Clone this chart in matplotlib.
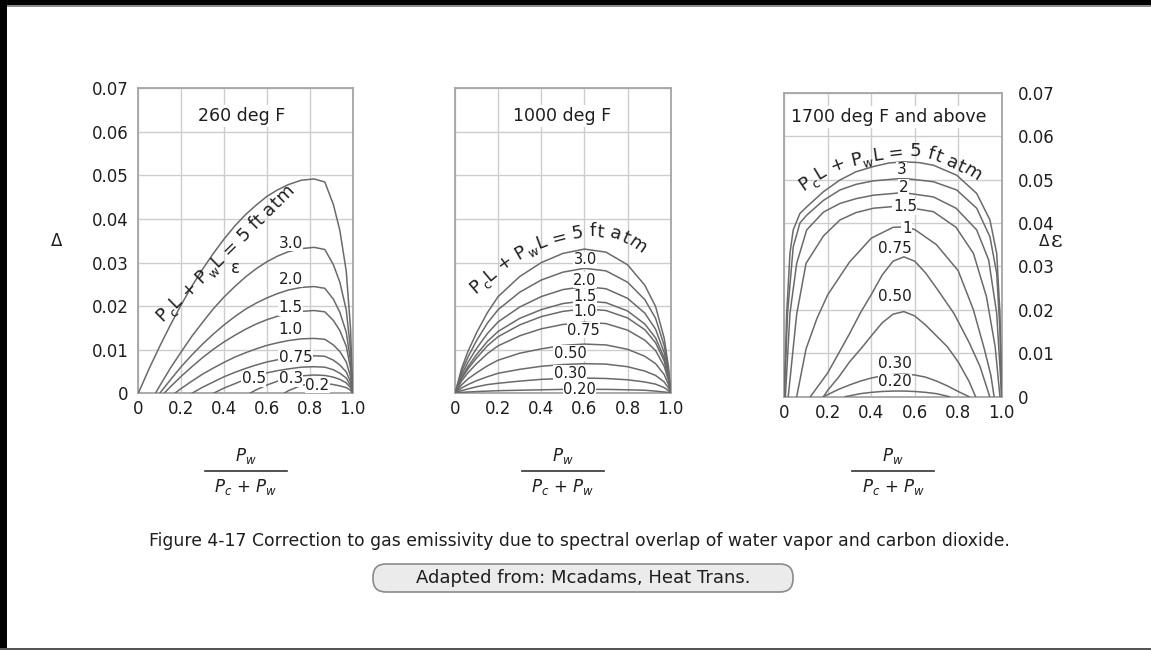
import numpy as np
import matplotlib
matplotlib.use("Agg")
import matplotlib.pyplot as plt
from matplotlib.patches import FancyBboxPatch, Rectangle
from matplotlib.lines import Line2D
from matplotlib.transforms import IdentityTransform

plt.rcParams['font.family'] = ['DejaVu Sans']
plt.rcParams['mathtext.fontset'] = 'dejavusans'

# ---- data ----
X_TICKS = [0, 0.2, 0.4, 0.6, 0.8, 1.0]
X_TICK_LABELS = ["0", "0.2", "0.4", "0.6", "0.8", "1.0"]
Y_TICKS = [0, 0.01, 0.02, 0.03, 0.04, 0.05, 0.06, 0.07]
Y_TICK_LABELS = ["0", "0.01", "0.02", "0.03", "0.04", "0.05", "0.06", "0.07"]

TITLES = ["260 deg F", "1000 deg F", "1700 deg F and above"]

# panel 1 (260 deg F): common grid, each curve starts on the base line at its own x
p1_grid = [0.05, 0.1, 0.15, 0.2, 0.25, 0.3, 0.35, 0.4, 0.45, 0.5, 0.55,
           0.6, 0.65, 0.7, 0.76, 0.82, 0.87, 0.91, 0.94, 0.97, 0.99, 1.0]
p1_start = {"5": 0.0, "3.0": 0.08, "2.0": 0.10, "1.5": 0.12, "1.0": 0.17,
            "0.75": 0.25, "0.5": 0.35, "0.3": 0.52, "0.2": 0.68}
N = None
p1_vals = {
    "5":    [.0056, .0108, .0157, .0203, .0246, .0285, .0321, .0354, .0384, .0410, .0432,
             .0452, .0467, .0479, .0489, .0492, .0485, .0433, .0374, .0280, .0148, 0],
    "3.0":  [N, .0017, .0058, .0095, .0131, .0163, .0194, .0221, .0245, .0267, .0286,
             .0302, .0315, .0325, .0332, .0335, .0330, .0295, .0255, .0191, .0100, 0],
    "2.0":  [N, N, .0031, .0061, .0088, .0113, .0136, .0157, .0176, .0193, .0207,
             .0219, .0229, .0237, .0243, .0245, .0241, .0216, .0186, .0140, .0074, 0],
    "1.5":  [N, N, .0015, .0039, .0061, .0082, .0101, .0118, .0133, .0147, .0159,
             .0169, .0177, .0183, .0188, .0190, .0187, .0167, .0144, .0108, .0057, 0],
    "1.0":  [N, N, N, .0011, .0028, .0044, .0058, .0071, .0083, .0093, .0102,
             .0110, .0116, .0121, .0125, .0126, .0124, .0111, .0096, .0072, .0038, 0],
    "0.75": [N, N, N, N, N, .0014, .0026, .0038, .0048, .0057, .0065,
             .0072, .0077, .0082, .0085, .0086, .0085, .0076, .0065, .0049, .0026, 0],
    "0.5":  [N, N, N, N, N, N, N, .0012, .0022, .0032, .0040,
             .0047, .0052, .0056, .0060, .0061, .0060, .0054, .0046, .0035, .0018, 0],
    "0.3":  [N, N, N, N, N, N, N, N, N, N, .0008,
             .0019, .0028, .0035, .0040, .0042, .0041, .0037, .0032, .0024, .0013, 0],
    "0.2":  [N, N, N, N, N, N, N, N, N, N, N,
             N, N, .0006, .0018, .0023, .0023, .0020, .0017, .0013, .0007, 0],
}
p1_labels = {"3.0": (0.711, 0.0344), "2.0": (0.711, 0.0262), "1.5": (0.711, 0.0196),
             "1.0": (0.711, 0.0146), "0.75": (0.734, 0.0082), "0.5": (0.539, 0.0033),
             "0.3": (0.711, 0.0033), "0.2": (0.836, 0.0019)}

# panel 2 (1000 deg F): all curves run from 0 to 1
p2_grid = [0, 0.03, 0.06, 0.1, 0.15, 0.2, 0.3, 0.4, 0.5, 0.6, 0.7, 0.8, 0.88, 0.93, 0.97, 0.99, 1.0]
p2_vals = {
    "5":    [0, .0056, .0096, .0139, .0185, .0222, .0268, .0300, .0321, .0331, .0324, .0295, .0248, .0199, .0126, .0060, 0],
    "3.0":  [0, .0049, .0083, .0121, .0161, .0192, .0232, .0260, .0278, .0287, .0281, .0255, .0215, .0172, .0109, .0052, 0],
    "2.0":  [0, .0042, .0071, .0103, .0137, .0164, .0198, .0222, .0238, .0245, .0240, .0218, .0184, .0147, .0093, .0044, 0],
    "1.5":  [0, .0036, .0061, .0089, .0119, .0142, .0172, .0192, .0206, .0212, .0208, .0189, .0159, .0127, .0081, .0038, 0],
    "1.0":  [0, .0033, .0056, .0081, .0109, .0130, .0157, .0176, .0188, .0194, .0190, .0173, .0146, .0116, .0074, .0035, 0],
    "0.75": [0, .0028, .0047, .0068, .0091, .0109, .0132, .0148, .0158, .0163, .0160, .0145, .0122, .0098, .0062, .0029, 0],
    "0.50": [0, .0019, .0033, .0047, .0063, .0076, .0092, .0102, .0110, .0113, .0111, .0101, .0085, .0068, .0043, .0020, 0],
    "0.30": [0, .0012, .0020, .0029, .0038, .0046, .0055, .0062, .0066, .0068, .0067, .0061, .0051, .0041, .0026, .0012, 0],
    "0.20": [0, .0006, .0010, .0015, .0020, .0023, .0028, .0032, .0034, .0035, .0034, .0031, .0026, .0021, .0013, .0006, 0],
    "low":  [0, .0002, .0003, .0004, .0005, .0006, .0007, .0008, .0009, .0009, .0009, .0008, .0007, .0005, .0003, .0002, 0],
}
p2_labels = {"3.0": (0.603, 0.0306), "2.0": (0.603, 0.0260), "1.5": (0.603, 0.0222),
             "1.0": (0.603, 0.0188), "0.75": (0.595, 0.0145), "0.50": (0.533, 0.0092),
             "0.30": (0.533, 0.0046), "0.20": (0.577, 0.0009)}

# panel 3 (1700 deg F and above): each curve has its own points
p3_x = {
    "5":    [0, 0.011, 0.026, 0.041, 0.072, 0.103, 0.18, 0.256, 0.33, 0.41, 0.48, 0.548, 0.62, 0.686, 0.793, 0.885, 0.946, 0.977, 0.992, 1.0],
    "3":    [0, 0.015, 0.041, 0.072, 0.103, 0.18, 0.256, 0.33, 0.41, 0.548, 0.686, 0.793, 0.885, 0.946, 0.977, 0.992, 1.0],
    "2":    [0.005, 0.026, 0.057, 0.103, 0.18, 0.256, 0.33, 0.41, 0.548, 0.686, 0.79, 0.885, 0.94, 0.977, 1.0],
    "1.5":  [0.018, 0.057, 0.10, 0.18, 0.256, 0.33, 0.41, 0.53, 0.686, 0.79, 0.87, 0.93, 0.97, 0.992],
    "1":    [0.057, 0.10, 0.15, 0.2, 0.3, 0.4, 0.5, 0.55, 0.6, 0.7, 0.8, 0.87, 0.92, 0.95, 0.965],
    "0.75": [0.12, 0.2, 0.3, 0.35, 0.4, 0.45, 0.5, 0.55, 0.6, 0.65, 0.7, 0.78, 0.85, 0.9, 0.945],
    "0.50": [0.18, 0.2, 0.25, 0.3, 0.36, 0.4, 0.45, 0.5, 0.55, 0.6, 0.65, 0.7, 0.75, 0.8, 0.85, 0.88],
    "0.30": [0.18, 0.25, 0.3, 0.35, 0.4, 0.45, 0.5, 0.55, 0.6, 0.65, 0.7, 0.75, 0.8, 0.85],
    "0.20": [0.28, 0.35, 0.4, 0.45, 0.5, 0.55, 0.6, 0.65, 0.7, 0.76],
}
p3_y = {
    "5":    [0, .0192, .0330, .0384, .0422, .0437, .0472, .0499, .0518, .0530, .0538, .0541, .0539, .0533, .0510, .0468, .0407, .0330, .0192, 0],
    "3":    [0, .0192, .0345, .0400, .0418, .0452, .0476, .0489, .0497, .0503, .0495, .0476, .0434, .0368, .0284, .0153, 0],
    "2":    [0, .0192, .0307, .0384, .0425, .0445, .0456, .0464, .0470, .0460, .0434, .0384, .0315, .0192, 0],
    "1.5":  [0, .0190, .0307, .0370, .0407, .0424, .0434, .0439, .0426, .0390, .0330, .0230, .0115, 0],
    "1":    [0, .0110, .0180, .0235, .0310, .0365, .0390, .0391, .0385, .0350, .0290, .0200, .0110, .0050, 0],
    "0.75": [0, .0055, .0145, .0193, .0235, .0280, .0312, .0322, .0312, .0285, .0250, .0192, .0125, .0070, 0],
    "0.50": [0, .0015, .0045, .0080, .0115, .0140, .0170, .0190, .0196, .0186, .0165, .0140, .0115, .0080, .0035, 0],
    "0.30": [0, .0017, .0027, .0036, .0043, .0048, .0051, .0052, .0050, .0045, .0036, .0025, .0012, 0],
    "0.20": [0, .0007, .0010, .0012, .0013, .0013, .0012, .0010, .0007, 0],
}
p3_labels = {"3": (0.540, 0.0523), "2": (0.548, 0.0482), "1.5": (0.555, 0.0437),
             "1": (0.563, 0.0388), "0.75": (0.509, 0.0342), "0.50": (0.509, 0.0230),
             "0.30": (0.509, 0.0077), "0.20": (0.509, 0.0035)}

# baseline paths for the "PcL + PwL = 5 ft atm" label in each panel
p1_path_x = [0.112, 0.76, 0.95]
p1_path_y = [0.0163, 0.0478, 0.0570]
p2_path_x = [0.095, 0.238, 0.365, 0.52, 0.64, 0.745, 0.83, 0.915, 0.955, 0.99]
p2_path_y = [0.0228, 0.0289, 0.0328, 0.0351, 0.0361, 0.0354, 0.0333, 0.0292, 0.0269, 0.0240]
p3_path_x = [0.088, 0.216, 0.40, 0.53, 0.60, 0.686, 0.76, 0.84, 0.885, 0.93, 0.96, 0.99]
p3_path_y = [0.0474, 0.0518, 0.0542, 0.0550, 0.0554, 0.0546, 0.0528, 0.0510, 0.0495, 0.0476, 0.0455, 0.0430]

label_pieces = [("P", 1, 0), ("c", .7, .28), ("L", 1, 0), (" ", 1, 0), ("+", 1, 0), (" ", 1, 0),
                ("P", 1, 0), ("w", .7, .28), ("L", 1, 0), (" ", 1, 0), ("=", 1, 0), (" ", 1, 0),
                ("5", 1, 0), (" ", 1, 0), ("f", 1, 0), ("t", 1, 0), (" ", 1, 0),
                ("a", 1, 0), ("t", 1, 0), ("m", 1, 0)]

CAPTION = "Figure 4-17 Correction to gas emissivity due to spectral overlap of water vapor and carbon dioxide."
SOURCE = "Adapted from: Mcadams, Heat Trans."

# ---- figure ----
W, H = 1151, 650
fig = plt.figure(figsize=(W / 100, H / 100), dpi=100)
fig.patch.set_facecolor('white')

CURVE = '#6a6a6a'
TEXT = '#1e1e1e'

ax1 = fig.add_axes([138.3 / W, (H - 393.3) / H, 214.4 / W, 305 / H])
ax2 = fig.add_axes([455.0 / W, (H - 393.3) / H, 215.7 / W, 305 / H])
ax3 = fig.add_axes([784.3 / W, (H - 396.7) / H, 217.4 / W, 304 / H])


def setup(ax, side):
    ax.set_xlim(0, 1)
    ax.set_ylim(0, 0.07)
    ax.set_xticks(X_TICKS)
    ax.set_xticklabels(X_TICK_LABELS)
    ax.set_yticks(Y_TICKS)
    ax.set_yticklabels(Y_TICK_LABELS)
    ax.grid(True, color='#cdcdcd', lw=1.0)
    ax.set_axisbelow(True)
    ax.tick_params(length=0, labelsize=12, colors=TEXT)
    ax.tick_params(axis='x', pad=5)
    for s in ax.spines.values():
        s.set_color('#a5a5a5')
        s.set_linewidth(1.3)
    if side == 'left':
        ax.tick_params(axis='y', pad=7)
    elif side == 'right':
        ax.yaxis.tick_right()
        ax.tick_params(axis='y', pad=12, length=0)
    else:
        ax.tick_params(axis='y', labelleft=False)


def path_text(ax, px, py, pieces, size):
    r = fig.canvas.get_renderer()
    pts = ax.transData.transform(np.column_stack([px, py]))
    d = np.hypot(*np.diff(pts, axis=0).T)
    cum = np.concatenate([[0], np.cumsum(d)])
    seg_ang = np.arctan2(np.diff(pts[:, 1]), np.diff(pts[:, 0]))
    seg_mid = (cum[:-1] + cum[1:]) / 2
    em = size * fig.dpi / 72
    s = 0.0
    for txt, scale, drop in pieces:
        if txt == " ":
            s += 0.3 * em
            continue
        t = ax.text(0, 0, txt, fontsize=size * scale, color=TEXT, ha='center',
                    va='baseline', rotation_mode='anchor', zorder=5)
        w = t.get_window_extent(renderer=r).width
        m = s + w / 2
        ang = np.interp(m, seg_mid, seg_ang)
        x = np.interp(m, cum, pts[:, 0]) + drop * em * np.sin(ang)
        y = np.interp(m, cum, pts[:, 1]) - drop * em * np.cos(ang)
        xd, yd = ax.transData.inverted().transform((x, y))
        t.set_position((xd, yd))
        t.set_rotation(np.degrees(ang))
        s += w + 0.02 * em


def curve_label(ax, txt, pos, size=11):
    ax.text(pos[0], pos[1], txt, fontsize=size, color=TEXT, ha='center', va='center', zorder=4,
            bbox=dict(fc='white', ec='none', pad=0.3))


setup(ax1, 'left')
setup(ax2, 'none')
setup(ax3, 'right')

g1 = np.array(p1_grid)
for k, vals in p1_vals.items():
    v = np.array(vals, dtype=float)
    ok = ~np.isnan(v)
    ax1.plot(np.r_[p1_start[k], g1[ok]], np.r_[0, v[ok]], color=CURVE, lw=1.1, zorder=3)
for k, pos in p1_labels.items():
    curve_label(ax1, k, pos)

for k, vals in p2_vals.items():
    ax2.plot(p2_grid, vals, color=CURVE, lw=1.1, zorder=3)
for k, pos in p2_labels.items():
    curve_label(ax2, k, pos, 10.5)

for k in p3_x:
    ax3.plot(p3_x[k], p3_y[k], color=CURVE, lw=1.1, zorder=3)
for k, pos in p3_labels.items():
    curve_label(ax3, k, pos)

for ax, title, tx, ty in zip([ax1, ax2, ax3], TITLES, [0.48, 0.495, 0.48], [0.0636, 0.0636, 0.0645]):
    ax.text(tx, ty, title, fontsize=12.5, color=TEXT,
            ha='center', va='center', zorder=4, bbox=dict(fc='white', ec='none', pad=1.5))

ax1.text(0.453, 0.0287, "ε", fontsize=12, color=TEXT, ha='center', va='center', zorder=4)

path_text(ax1, p1_path_x, p1_path_y, label_pieces, 13)
path_text(ax2, p2_path_x, p2_path_y, label_pieces, 13)
path_text(ax3, p3_path_x, p3_path_y, label_pieces, 13)

# axis labels
fig.text(57 / W, 1 - 241 / H, "Δ", fontsize=12, color=TEXT, ha='center', va='center')
fig.text(1044 / W, 1 - 242 / H, "Δ", fontsize=11, color=TEXT, ha='center', va='center')
fig.text(1057 / W, 1 - 241 / H, "ε", fontsize=16, color=TEXT, ha='center', va='center',
         family='DejaVu Serif')

# x-axis fraction under each panel
for ax in [ax1, ax2, ax3]:
    b = ax.get_position()
    cx = (b.x0 + b.x1) / 2
    fig.text(cx, 1 - 456 / H, r"$P_w$", fontsize=12, color=TEXT, ha='center', va='center')
    fig.add_artist(Line2D([cx - 41 / W, cx + 41 / W], [1 - 471 / H, 1 - 471 / H],
                          color='#333333', lw=1.2, transform=fig.transFigure))
    fig.text(cx, 1 - 487 / H, r"$P_c$ + $P_w$", fontsize=12, color=TEXT, ha='center', va='center')

fig.text(579 / W, 1 - 541 / H, CAPTION, fontsize=12.4, color=TEXT, ha='center', va='center')

btn = FancyBboxPatch((373, H - 592), 420, 28, boxstyle="round,pad=0,rounding_size=13",
                     transform=IdentityTransform(), fc='#ebebeb', ec='#8a8a8a', lw=1.2)
fig.add_artist(btn)
fig.text(583 / W, 1 - 578 / H, SOURCE, fontsize=13, color=TEXT, ha='center', va='center')

# page frame
for x0, y0, w, h, c in [(0, H - 5, W, 5, '#000000'), (0, H - 6.5, W, 1.5, '#8c8c8c'),
                        (0, 0, 7, H, '#000000'), (0, 0, W, 2, '#555555')]:
    fig.add_artist(Rectangle((x0, y0), w, h, transform=IdentityTransform(), color=c, lw=0))

fig.savefig('out.png', dpi=100)
